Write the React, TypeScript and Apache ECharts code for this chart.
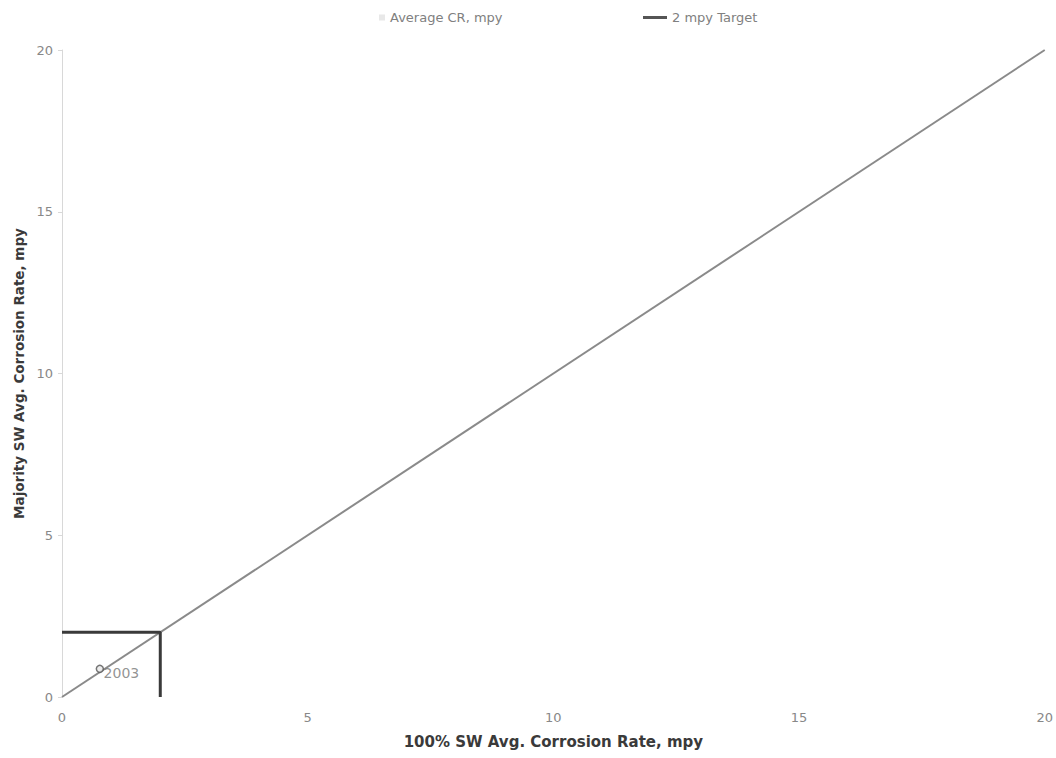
import React, { useEffect, useRef } from "react";
import * as echarts from "echarts";

const axisTicks = [0, 5, 10, 15, 20];
const avgCR: [number, number][] = [[0.77, 0.87]];
const avgCRLabels = ["2003"];
const diagonal: [number, number][] = [[0, 0], [20, 20]];
const target: [number, number][] = [[0, 2], [2, 2], [2, 0]];

const FONT = "'DejaVu Sans', sans-serif";

export default function App() {
  const ref = useRef<HTMLDivElement>(null);
  useEffect(() => {
    if (!ref.current) return;
    const chart = echarts.init(ref.current, undefined, { renderer: "svg" });
    chart.setOption({
      animation: false,
      backgroundColor: "#ffffff",
      textStyle: { fontFamily: FONT },
      grid: { left: 62, right: 4, top: 50, bottom: 61, containLabel: false },
      legend: [
        {
          left: 374,
          top: 6,
          itemWidth: 6,
          itemHeight: 6,
          textStyle: { color: "#808080", fontSize: 13, fontFamily: FONT },
          data: [{ name: "Average CR, mpy", icon: "rect", itemStyle: { color: "#e2e2e2", borderWidth: 0 } }],
        },
        {
          left: 638,
          top: 6,
          itemWidth: 24,
          itemHeight: 3,
          textStyle: { color: "#808080", fontSize: 13, fontFamily: FONT },
          data: [{ name: "2 mpy Target", icon: "rect", itemStyle: { color: "#555" } }],
        },
      ],
      xAxis: {
        type: "value",
        min: axisTicks[0],
        max: axisTicks[axisTicks.length - 1],
        interval: 5,
        name: "100% SW Avg. Corrosion Rate, mpy",
        nameLocation: "middle",
        nameGap: 37,
        nameTextStyle: { color: "#3a3a3a", fontSize: 15, fontWeight: "bold", fontFamily: FONT },
        axisLine: { show: false },
        axisTick: { show: false },
        splitLine: { show: false },
        axisLabel: { color: "#888", fontSize: 13, margin: 14, fontFamily: FONT },
      },
      yAxis: {
        type: "value",
        min: axisTicks[0],
        max: axisTicks[axisTicks.length - 1],
        interval: 5,
        name: "Majority SW Avg. Corrosion Rate, mpy",
        nameLocation: "middle",
        nameGap: 36,
        nameTextStyle: { color: "#3a3a3a", fontSize: 13.5, fontWeight: "bold", fontFamily: FONT },
        axisLine: { show: true, lineStyle: { color: "#d8d8d8", width: 1 } },
        axisTick: { show: true, length: 4, lineStyle: { color: "#d8d8d8" } },
        splitLine: { show: false },
        axisLabel: { color: "#888", fontSize: 13, margin: 9, fontFamily: FONT },
      },
      series: [
        {
          name: "diagonal",
          type: "line",
          data: diagonal,
          symbol: "none",
          lineStyle: { color: "#8a8a8a", width: 2 },
          silent: true,
          z: 1,
        },
        {
          name: "2 mpy Target",
          type: "line",
          data: target,
          symbol: "none",
          lineStyle: { color: "#3a3a3a", width: 3 },
          z: 2,
        },
        {
          name: "Average CR, mpy",
          type: "scatter",
          data: avgCR.map((p, i) => ({ value: p, name: avgCRLabels[i] })),
          symbol: "circle",
          symbolSize: 7,
          itemStyle: { color: "#e8e8e8", borderColor: "#555", borderWidth: 1.5 },
          label: {
            show: true,
            formatter: (p: any) => p.name,
            position: [8, 1],
            color: "#777",
            fontSize: 14,
            fontFamily: FONT,
          },
          z: 3,
        },
      ],
    });
    return () => chart.dispose();
  }, []);
  return <div ref={ref} style={{ width: 1056, height: 758, position: "absolute", left: 0, top: 0 }} />;
}
